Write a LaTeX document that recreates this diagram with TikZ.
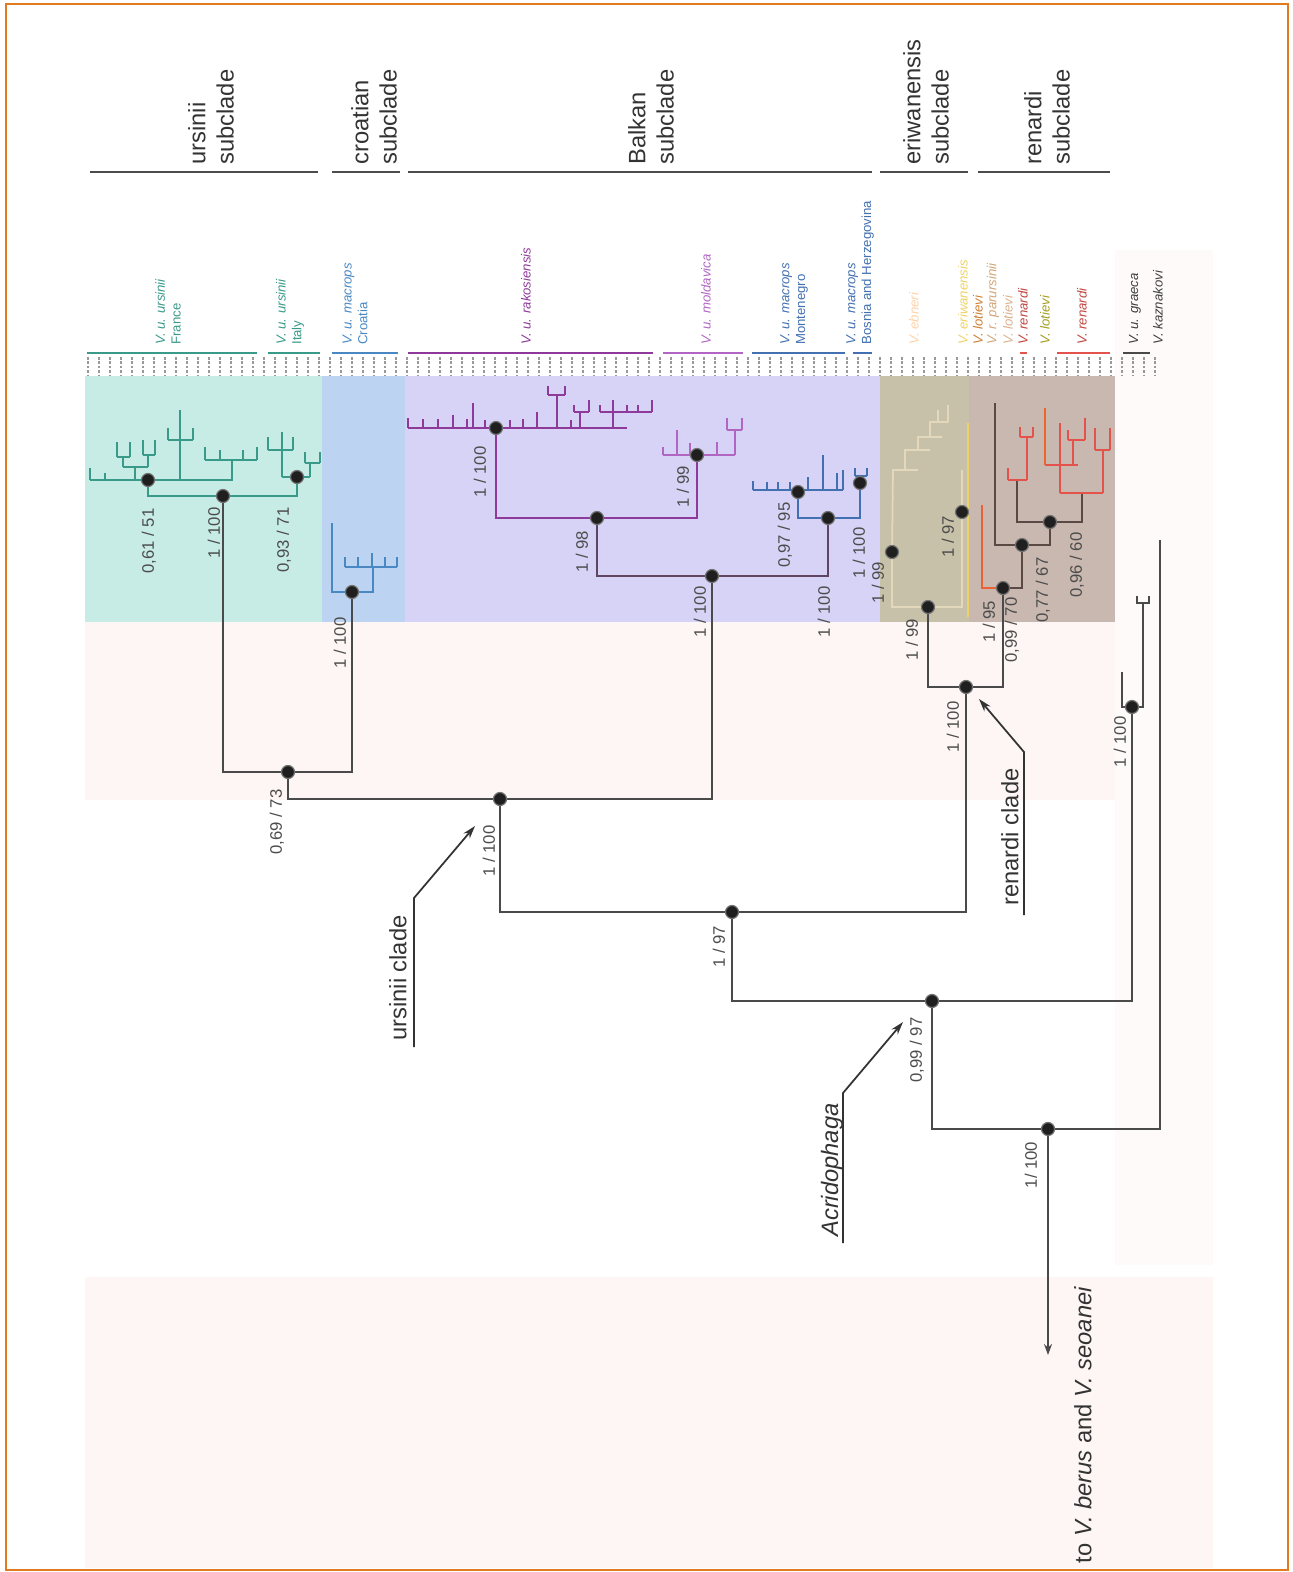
\documentclass[tikz,border=0pt]{standalone}
\usepackage{fontspec}
\setmainfont{Liberation Sans}
\usepackage{xcolor}
\usetikzlibrary{arrows.meta}
\pgfdeclarelayer{bg}
\pgfsetlayers{bg,main}

\definecolor{edgeorange}{HTML}{E07B20}
\definecolor{urs}{HTML}{3A9A8A}
\definecolor{cro}{HTML}{4A88C4}
\definecolor{rak}{HTML}{8E3A9A}
\definecolor{mol}{HTML}{B266C4}
\definecolor{mon}{HTML}{4370B0}
\definecolor{ren}{HTML}{E4524C}
\definecolor{rendk}{HTML}{5A4845}
\definecolor{eri}{HTML}{E3D8BC}
\definecolor{eriy}{HTML}{EED266}
\definecolor{ursbg}{HTML}{C6ECE5}
\definecolor{crobg}{HTML}{BDD3F2}
\definecolor{balbg}{HTML}{D7D3F6}
\definecolor{eribg}{HTML}{C8C1AA}
\definecolor{renbg}{HTML}{C9B8AF}
\definecolor{pinkbg}{HTML}{FDF6F5}
\definecolor{branch}{HTML}{4A4A4A}

\begin{document}
\begin{tikzpicture}[
    x=0.02cm, y=-0.02cm,
    tree/.style={draw=branch, line width=1.1pt},
    comb/.style={line width=1pt},
    support/.style={circle, fill=black!88, draw=black!55, line width=0.7pt, inner sep=0pt, minimum size=0.26cm},
    val/.style={rotate=90, inner sep=0pt, text=black!70, font=\fontsize{9.5}{10}\selectfont},
    taxon/.style={rotate=90, anchor=west, inner sep=0pt, align=left, font=\fontsize{7.5}{9}\selectfont},
    subclade/.style={rotate=90, anchor=west, inner sep=0pt, align=left, text=black!80, font=\fontsize{13.5}{16}\selectfont},
    clade/.style={rotate=90, inner sep=0pt, text=black!80, font=\fontsize{13.5}{15}\selectfont},
    callout/.style={draw=black!80, line width=1pt, -{Stealth[length=0.26cm,width=0.16cm]}},
    tickbar/.style={line width=1.6pt}
  ]
\useasboundingbox (0,0) rectangle (1293,1572);

% subclade headers
\node[subclade] (hurs) at (211,165) {ursinii\\subclade};
\node[subclade] (hcro) at (374,165) {croatian\\subclade};
\node[subclade] (hbal) at (651,165) {Balkan\\subclade};
\node[subclade] (heri) at (926,165) {eriwanensis\\subclade};
\node[subclade] (hren) at (1047,165) {renardi\\subclade};

% taxa
\node[taxon, text=urs] (tfra) at (168,345) {\textit{V. u. ursinii}\\France};
\node[taxon, text=urs] (tita) at (290,345) {\textit{V. u. ursinii}\\Italy};
\node[taxon, text=cro] (tcro) at (355,345) {\textit{V. u. macrops}\\Croatia};
\node[taxon, text=rak] (trak) at (526,345) {\textit{V. u. rakosiensis}};
\node[taxon, text=mol] (tmol) at (706,345) {\textit{V. u. moldavica}};
\node[taxon, text=mon] (tmon) at (794,345) {\textit{V. u. macrops}\\Montenegro};
\node[taxon, text=mon] (tbos) at (860,345) {\textit{V. u. macrops}\\Bosnia and Herzegovina};
\node[taxon, text=orange!35] (tebn) at (914,345) {\textit{V. ebneri}};
\node[taxon, text=eriy] (teri) at (963,345) {\textit{V. eriwanensis}};
\node[taxon, text=brown!80!orange] (tlo1) at (978,345) {\textit{V. lotievi}};
\node[taxon, text=brown!70] (tpar) at (993,345) {\textit{V. r. parursinii}};
\node[taxon, text=brown!60] (tlo2) at (1008,345) {\textit{V. lotievi}};
\node[taxon, text=ren!85!black] (tre1) at (1023,345) {\textit{V. renardi}};
\node[taxon, text=olive!80] (tlo3) at (1045,345) {\textit{V. lotievi}};
\node[taxon, text=ren!85!black] (tre2) at (1082,345) {\textit{V. renardi}};
\node[taxon, text=black!75] (tgra) at (1135,345) {\textit{V. u. graeca}};
\node[taxon, text=black!75] (tkaz) at (1158,345) {\textit{V. kaznakovi}};

% support nodes
\node[support] (u1) at (148,480) {};
\node[support] (u2) at (297,477) {};
\node[support] (u3) at (223,496) {};
\node[support] (c1) at (352,592) {};
\node[support] (uc0) at (288,772) {};
\node[support] (r1) at (496,428) {};
\node[support] (m1) at (697,455) {};
\node[support] (b1) at (597,518) {};
\node[support] (mo) at (798,492) {};
\node[support] (mb) at (860,483) {};
\node[support] (b2) at (828,518) {};
\node[support] (b3) at (712,576) {};
\node[support] (uc) at (500,799) {};
\node[support] (e1) at (892,552) {};
\node[support] (e2) at (962,512) {};
\node[support] (e3) at (928,607) {};
\node[support] (rd1) at (1003,588) {};
\node[support] (rd2) at (1022,545) {};
\node[support] (rd3) at (1050,522) {};
\node[support] (rc) at (966,687) {};
\node[support] (a1) at (732,912) {};
\node[support] (gk) at (1132,707) {};
\node[support] (ac) at (932,1001) {};
\node[support] (root) at (1048,1129) {};

% support values
\node[val] (u1v) at (149,541) {0,61 / 51};
\node[val] (u3v) at (214,533) {1 / 100};
\node[val] (u2v) at (284,540) {0,93 / 71};
\node[val] (c1v) at (340,643) {1 / 100};
\node[val] (uc0v) at (277,822) {0,69 / 73};
\node[val] (r1v) at (480,472) {1 / 100};
\node[val] (m1v) at (683,487) {1 / 99};
\node[val] (b1v) at (582,552) {1 / 98};
\node[val] (mov) at (785,535) {0,97 / 95};
\node[val] (b2v) at (859,553) {1 / 100};
\node[val] (b3v) at (700,612) {1 / 100};
\node[val] (b2w) at (824,612) {1 / 100};
\node[val] (e1v) at (878,583) {1 / 99};
\node[val] (e2v) at (948,537) {1 / 97};
\node[val] (e3v) at (912,640) {1 / 99};
\node[val] (rd1v) at (989,622) {1 / 95};
\node[val] (rd1w) at (1012,630) {0,99 / 70};
\node[val] (rd2v) at (1043,590) {0,77 / 67};
\node[val] (rd3v) at (1077,565) {0,96 / 60};
\node[val] (rcv) at (953,727) {1 / 100};
\node[val] (gkv) at (1120,742) {1 / 100};
\node[val] (ucv) at (489,851) {1 / 100};
\node[val] (a1v) at (719,947) {1 / 97};
\node[val] (acv) at (917,1050) {0,99 / 97};
\node[val] (rootv) at (1031,1165) {1/ 100};

% clade callouts
\node[clade] (ucl) at (398,978) {ursinii clade};
\node[clade] (rcl) at (1010,837) {renardi clade};
\node[clade] (acl) at (832,1170) {\textit{Acridophaga}};
\node[clade] (out) at (1083,1425) {to \textit{V. berus} and \textit{V. seoanei}};
\coordinate (ucl-a) at (414,1047);
\coordinate (ucl-b) at (414,898);
\coordinate (ucl-t) at (475,826);
\coordinate (rcl-a) at (1024,915);
\coordinate (rcl-b) at (1024,752);
\coordinate (rcl-t) at (979,699);
\coordinate (acl-a) at (843,1243);
\coordinate (acl-b) at (843,1093);
\coordinate (acl-t) at (903,1022);
\draw[callout] (ucl-a) -- (ucl-b) -- (ucl-t);
\draw[callout] (rcl-a) -- (rcl-b) -- (rcl-t);
\draw[callout] (acl-a) -- (acl-b) -- (acl-t);

\begin{pgfonlayer}{bg}
% panels
\fill[pinkbg] (85,622) rectangle (1213,800);
\fill[pinkbg!60] (1115,250) rectangle (1213,1265);
\fill[pinkbg] (85,1277) rectangle (1213,1568);
\fill[ursbg] (85,376) rectangle (322,622);
\fill[crobg] (322,376) rectangle (405,622);
\fill[balbg] (405,376) rectangle (880,622);
\fill[eribg] (880,376) rectangle (969,622);
\fill[renbg] (969,376) rectangle (1115,622);
\draw[edgeorange, line width=1.2pt] (6,4) rectangle (1288,1570);

% header rules
\draw[black!70, line width=1.3pt] (90,172) -- (318,172);
\draw[black!70, line width=1.3pt] (332,172) -- (400,172);
\draw[black!70, line width=1.3pt] (408,172) -- (872,172);
\draw[black!70, line width=1.3pt] (880,172) -- (968,172);
\draw[black!70, line width=1.3pt] (978,172) -- (1110,172);

% sample ticks
\foreach \x in {88,99,...,1165}
  \draw[black!40, line width=0.8pt, dash pattern=on 1.5pt off 1pt] (\x,357) -- (\x,375);
\draw[tickbar, urs] (87,353) -- (257,353);
\draw[tickbar, urs] (268,353) -- (320,353);
\draw[tickbar, cro] (332,353) -- (398,353);
\draw[tickbar, rak] (408,353) -- (653,353);
\draw[tickbar, mol] (663,353) -- (743,353);
\draw[tickbar, mon] (752,353) -- (845,353);
\draw[tickbar, mon] (853,353) -- (872,353);
\draw[tickbar, ren] (1020,353) -- (1027,353);
\draw[tickbar, ren] (1057,353) -- (1110,353);
\draw[tickbar, branch] (1123,353) -- (1150,353);

% ursinii subclade
\draw[comb, urs] (90,480) -- (233,480);
\foreach \x/\h in {90/468,105/473} \draw[comb, urs] (\x,480) -- (\x,\h);
\draw[comb, urs] (135,480) -- (135,467) (123,467) -- (148,467)
  (123,467) -- (123,457) (117,457) -- (130,457) (117,457) -- (117,442) (130,457) -- (130,442)
  (148,467) -- (148,455) (143,455) -- (155,455) (143,455) -- (143,440) (155,455) -- (155,440);
\draw[comb, urs] (180,480) -- (180,410) (168,440) -- (193,440) (168,440) -- (168,428) (193,440) -- (193,428);
\draw[comb, urs] (232,480) -- (232,460) (205,460) -- (257,460);
\foreach \x/\h in {205/447,220/450,243/450,257/447} \draw[comb, urs] (\x,460) -- (\x,\h);
\draw[comb, urs] (282,477) -- (310,477)
  (282,477) -- (282,432) (268,450) -- (293,450) (268,450) -- (268,437) (293,450) -- (293,437)
  (310,477) -- (310,463) (305,463) -- (320,463) (305,463) -- (305,452) (320,463) -- (320,452);
\draw[comb, urs] (u1) |- (u3) -| (u2);

% croatian subclade
\coordinate (cL) at (332,523);
\coordinate (cR) at (373,567);
\draw[comb, cro] (cL) |- (c1) -| (cR);
\draw[comb, cro] (345,567) -- (397,567);
\foreach \x/\h in {345/557,358/557,372/553,385/557,397/557} \draw[comb, cro] (\x,567) -- (\x,\h);
\draw[tree] (u3) |- (uc0) -| (c1);

% Balkan subclade
\draw[comb, rak] (408,428) -- (627,428);
\foreach \x/\h in {408/418,423/419,438/419,453/415,467/419,473/403,485/420,510/420,523/419,537/412,557/395,571/420,580/412,613/412}
  \draw[comb, rak] (\x,428) -- (\x,\h);
\draw[comb, rak] (548,395) -- (565,395) (548,395) -- (548,386) (565,395) -- (565,386);
\draw[comb, rak] (574,412) -- (589,412) (574,412) -- (574,405) (589,412) -- (589,400);
\draw[comb, rak] (600,412) -- (652,412);
\foreach \x/\h in {600/405,613/400,627/405,638/405,652/400} \draw[comb, rak] (\x,412) -- (\x,\h);
\draw[comb, mol] (663,455) -- (735,455);
\foreach \x/\h in {663/447,677/430,690/443,717/442,735/430} \draw[comb, mol] (\x,455) -- (\x,\h);
\draw[comb, mol] (727,430) -- (742,430) (727,430) -- (727,418) (742,430) -- (742,418);
\draw[comb, mon] (753,490) -- (843,490);
\foreach \x/\h in {753/481,767/482,778/482,790/482,808/477,823/455,837/473,843/470} \draw[comb, mon] (\x,490) -- (\x,\h);
\draw[comb, mon] (855,476) -- (867,476) (855,476) -- (855,468) (867,476) -- (867,468);
\draw[comb, rak] (r1) |- (b1) -| (m1);
\draw[comb, mon] (mo) |- (b2) -| (mb);
\draw[tree, draw=branch!70!rak] (b1) |- (b3) -| (b2);
\draw[tree] (uc0) |- (uc) -| (b3);

% eriwanensis subclade
\draw[comb, eri] (e1) -- (893,470) -- (918,470) (905,470) -- (905,450) -- (930,450)
  (918,450) -- (918,437) -- (942,437) (930,437) -- (930,422) -- (948,422)
  (948,422) -- (948,405) (938,422) -- (938,410) (e2) -- (962,470);
\draw[comb, eri] (e1) |- (e3) -| (e2);
\draw[eriy, line width=1pt] (968,423) -- (968,617);

% renardi subclade
\coordinate (rdL) at (982,505);
\coordinate (rdM) at (995,403);
\coordinate (rdA) at (1017,480);
\coordinate (rdB) at (1082,493);
\draw[comb, ren!70!orange, line width=0.7pt] (rdL) |- (rd1);
\draw[tree, draw=rendk] (rd1) -| (rd2);
\draw[tree, draw=rendk, line width=0.8pt] (rdM) |- (rd2) -| (rd3);
\draw[tree, draw=rendk] (rdA) |- (rd3) -| (rdB);
\draw[comb, ren] (1008,480) -- (1027,480) (1008,480) -- (1008,468) (1027,480) -- (1027,437)
  (1020,437) -- (1033,437) (1020,437) -- (1020,427) (1033,437) -- (1033,427);
\draw[comb, ren] (1060,493) -- (1103,493) (1060,493) -- (1060,465) (1045,465) -- (1078,465) (1060,465) -- (1060,423)
  (1073,465) -- (1073,440) (1068,440) -- (1085,440) (1068,440) -- (1068,430) (1085,440) -- (1085,418)
  (1103,493) -- (1103,450) (1095,450) -- (1110,450) (1095,450) -- (1095,428) (1110,450) -- (1110,428);
\draw[comb, ren!60!orange, line width=0.7pt] (1045,465) -- (1045,408);
\draw[tree] (e3) |- (rc) -| (rd1);

% graeca and kaznakovi
\draw[tree] (1122,672) -- (1122,707) -- (1143,707) -- (1143,603);
\draw[tree] (1137,596) -- (1137,603) -- (1149,603) -- (1149,596);
\coordinate (kz) at (1160,540);
\coordinate (outg) at (1048,1355);

% backbone
\draw[tree] (uc) |- (a1) -| (rc);
\draw[tree] (a1) |- (ac) -| (gk);
\draw[tree] (ac) |- (root) -| (kz);
\draw[tree, -{Stealth[length=0.22cm,width=0.16cm]}] (root) -- (outg);
\end{pgfonlayer}
\end{tikzpicture}
\end{document}
